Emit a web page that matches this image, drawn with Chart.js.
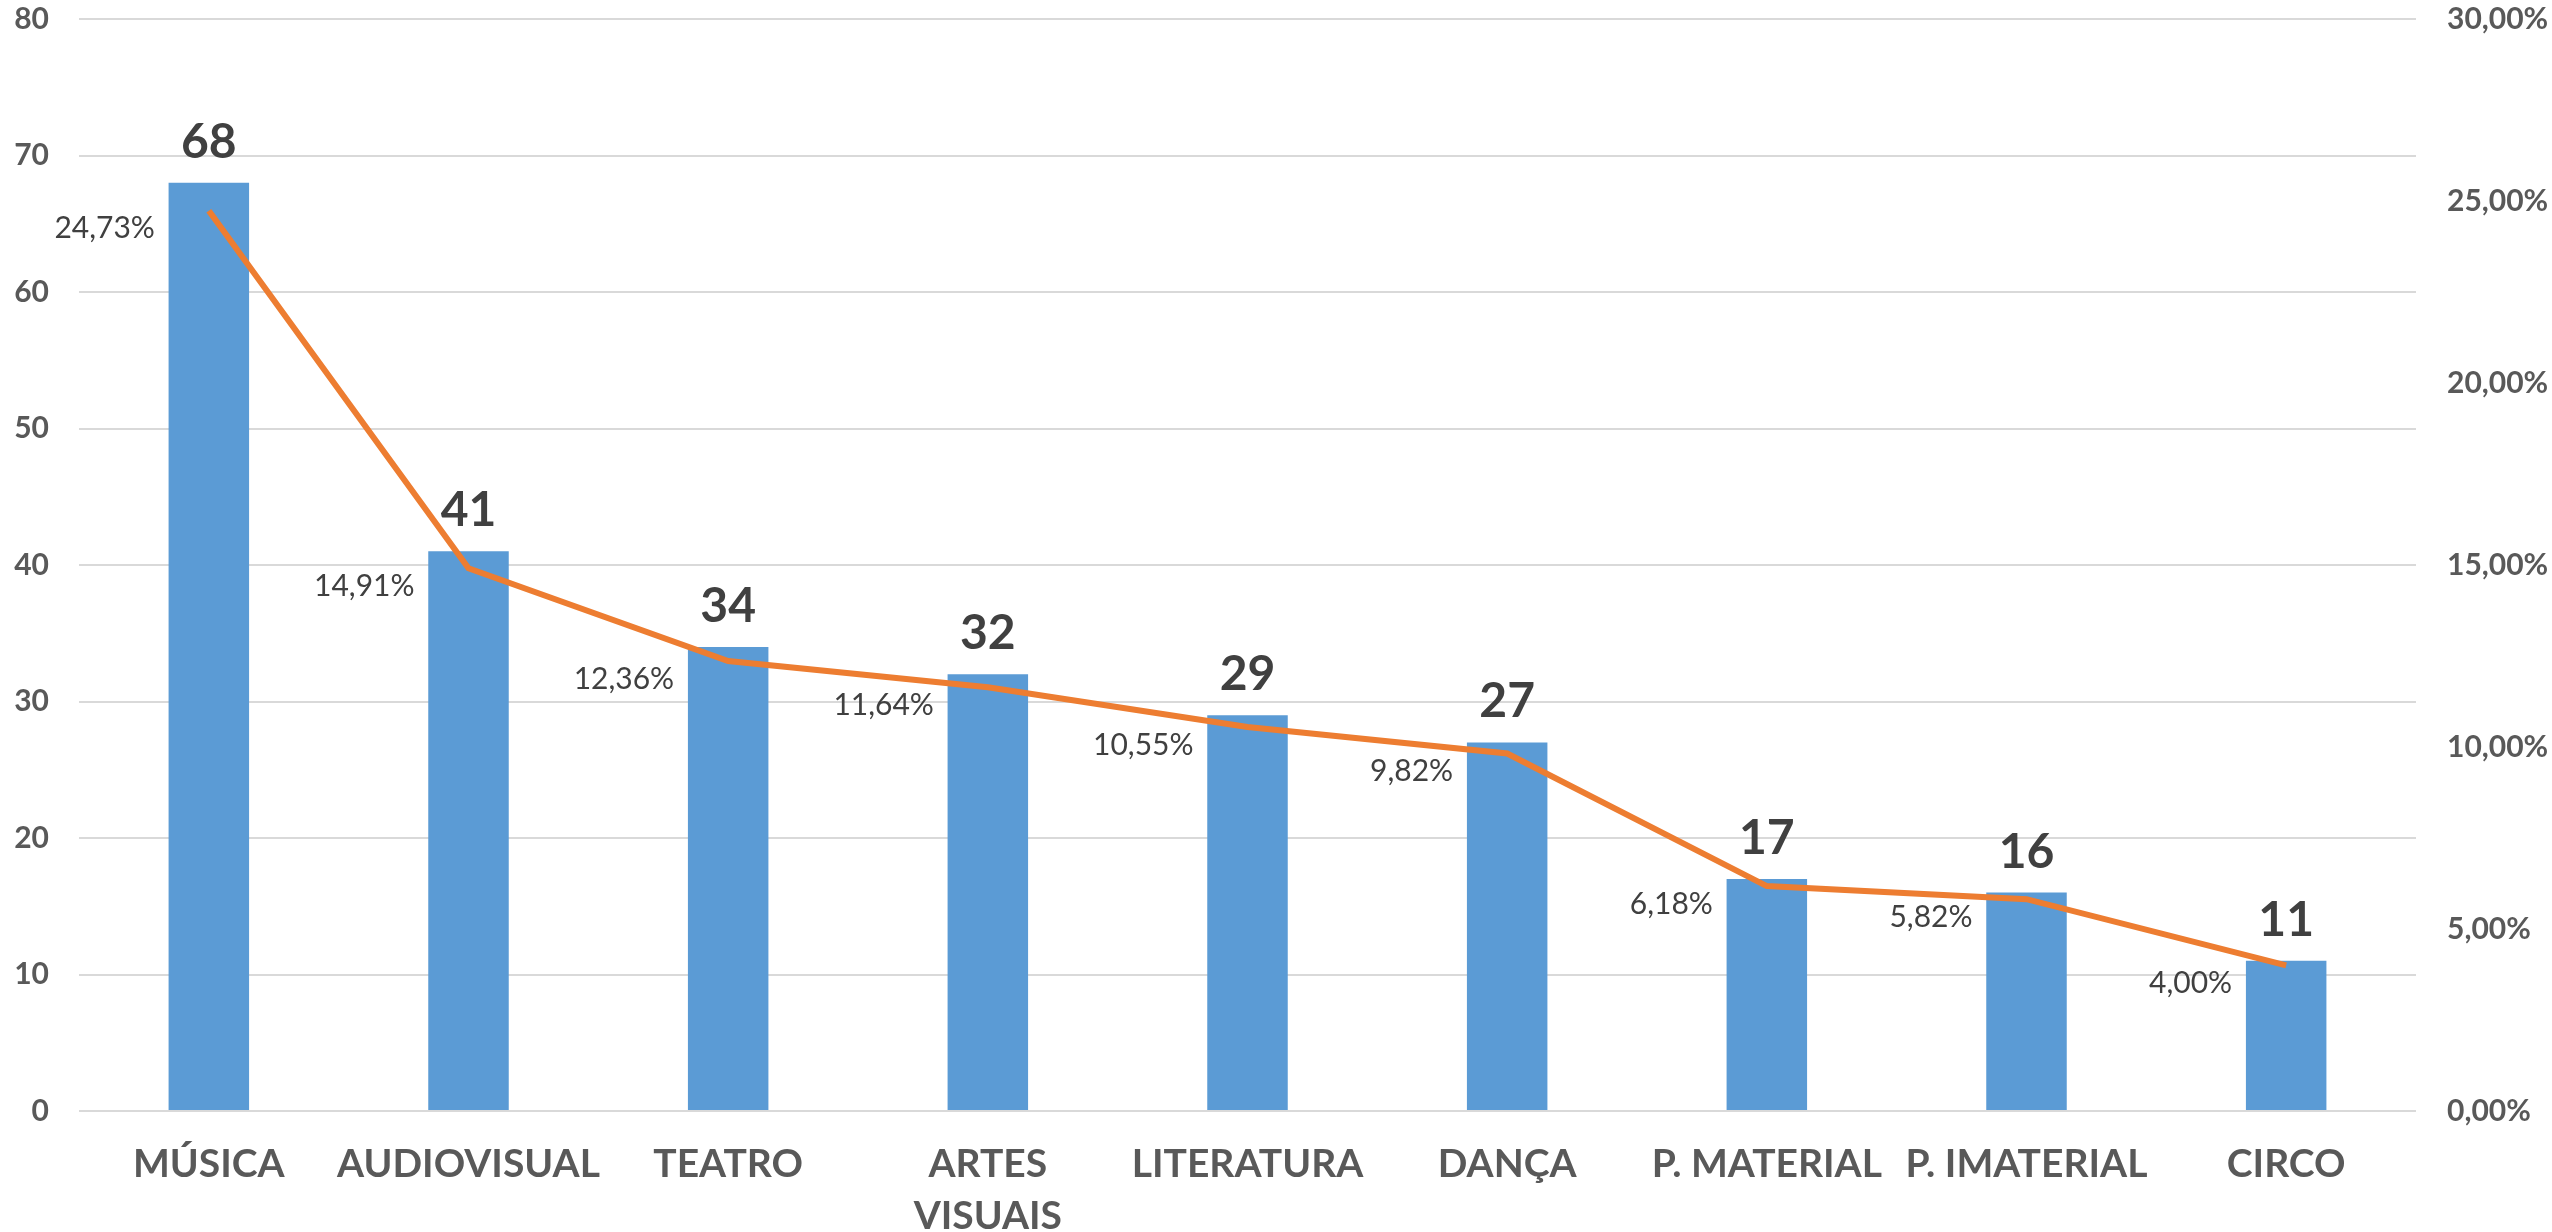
<!DOCTYPE html>
<html>
<head>
<meta charset="utf-8">
<script src="https://cdn.jsdelivr.net/npm/chart.js@4"></script>
<style>
  html, body { margin: 0; padding: 0; background: #ffffff; }
  #wrap { width: 2552px; height: 1232px; }
</style>
</head>
<body>
<div id="wrap"><canvas id="c" width="2552" height="1232"></canvas></div>
<script>
const categories = ['MÚSICA', 'AUDIOVISUAL', 'TEATRO', ['ARTES', 'VISUAIS'], 'LITERATURA', 'DANÇA', 'P. MATERIAL', 'P. IMATERIAL', 'CIRCO'];
const counts = [68, 41, 34, 32, 29, 27, 17, 16, 11];
const percents = [24.73, 14.91, 12.36, 11.64, 10.55, 9.82, 6.18, 5.82, 4.00];

const FONT = 'Lato, "Open Sans", sans-serif';
const fmtPct = v => v.toFixed(2).replace('.', ',') + '%';

const labelPlugin = {
  id: 'labels',
  afterDatasetsDraw(chart) {
    const ctx = chart.ctx;
    ctx.save();
    const barMeta = chart.getDatasetMeta(1);
    ctx.font = 'bold 48px ' + FONT;
    ctx.fillStyle = '#404040';
    ctx.textAlign = 'center';
    ctx.textBaseline = 'alphabetic';
    barMeta.data.forEach((el, i) => {
      ctx.fillText(String(counts[i]), el.x, el.y - 25);
    });
    const lineMeta = chart.getDatasetMeta(0);
    ctx.font = '30px ' + FONT;
    ctx.textAlign = 'right';
    ctx.textBaseline = 'middle';
    lineMeta.data.forEach((el, i) => {
      ctx.fillText(fmtPct(percents[i]), el.x - 54, el.y + 18);
    });
    ctx.restore();
  }
};

function fixY(width) {
  return function (s) { s.width = width; s.paddingTop = 0; s.paddingBottom = 0; };
}

new Chart(document.getElementById('c'), {
  data: {
    labels: categories,
    datasets: [
      {
        type: 'line',
        data: percents,
        yAxisID: 'y1',
        borderColor: '#ED7D31',
        borderWidth: 6,
        pointRadius: 0,
        tension: 0,
        order: 0
      },
      {
        type: 'bar',
        data: counts,
        yAxisID: 'y',
        backgroundColor: '#5B9BD5',
        categoryPercentage: 1,
        barPercentage: 0.31,
        order: 1
      }
    ]
  },
  options: {
    responsive: false,
    animation: false,
    devicePixelRatio: 1,
    layout: { padding: { top: 19, left: 0, right: 0, bottom: 0 } },
    plugins: { legend: { display: false }, tooltip: { enabled: false } },
    scales: {
      x: {
        grid: { display: false, drawTicks: false },
        border: { display: false },
        ticks: {
          font: { family: FONT, size: 39, weight: 'bold', lineHeight: 1.32 },
          color: '#595959',
          padding: 28,
          maxRotation: 0,
          autoSkip: false
        },
        afterFit(s) { s.height = 121; s.paddingLeft = 0; s.paddingRight = 0; }
      },
      y: {
        position: 'left',
        min: 0, max: 80,
        grid: { color: '#D9D9D9', lineWidth: 2, drawTicks: false },
        border: { display: false },
        ticks: {
          stepSize: 10,
          font: { family: FONT, size: 30, weight: 'bold' },
          color: '#595959',
          padding: 30
        },
        afterFit: fixY(79)
      },
      y1: {
        position: 'right',
        min: 0, max: 30,
        grid: { display: false, drawTicks: false },
        border: { display: false },
        ticks: {
          stepSize: 5,
          font: { family: FONT, size: 30, weight: 'bold' },
          color: '#595959',
          padding: 31,
          callback: v => fmtPct(v)
        },
        afterFit: fixY(136)
      }
    }
  },
  plugins: [labelPlugin]
});
</script>
</body>
</html>
